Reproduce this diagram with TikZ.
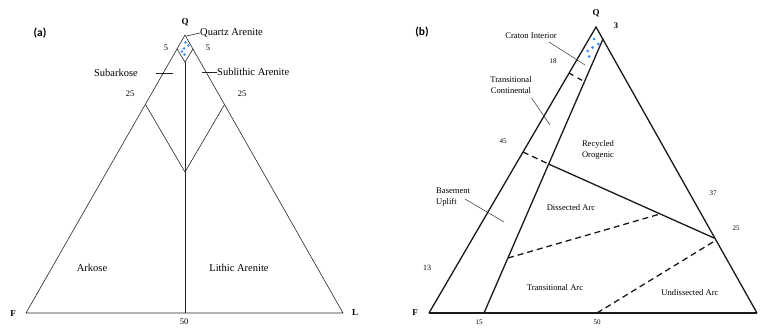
\documentclass[tikz,border=0pt]{standalone}
\usepackage{fontspec}
\setmainfont{Liberation Serif}
\newfontfamily\panelfont{Carlito}
\begin{document}
\begin{tikzpicture}[x=1pt,y=-1pt,
  lab/.style={inner sep=0pt,font=\fontsize{10.5}{12}\selectfont},
  labb/.style={inner sep=0pt,font=\fontsize{8.6}{10.4}\selectfont,align=center},
  num/.style={inner sep=0pt,font=\fontsize{8.5}{10}\selectfont},
  numb/.style={inner sep=0pt,font=\fontsize{7}{8}\selectfont},
  vert/.style={inner sep=0pt,font=\fontsize{9}{10}\selectfont\bfseries},
  panel/.style={inner sep=0pt,font=\panelfont\fontsize{11.5}{13}\selectfont\bfseries},
  thin/.style={line width=0.6pt,black!85},
  thick/.style={line width=1.3pt,black!90},
  dsh/.style={line width=1.3pt,black!90,dash pattern=on 6pt off 4pt},
  bluedot/.style={fill=blue!55!cyan!80,draw=none}]
\useasboundingbox (0,0) rectangle (765,327);

% ---------------- panel (a) ----------------
\coordinate (Qa) at (185,35);
\coordinate (Fa) at (26,313);
\coordinate (La) at (343,313);
\coordinate (l5) at (177,49);
\coordinate (r5) at (193,49);
\coordinate (db) at (185,62);
\coordinate (l25) at (145.5,104.5);
\coordinate (r25) at (224.5,104.5);
\coordinate (mc) at (185,172);
\coordinate (m50) at (185,313);

\draw[thin] (Qa) -- (Fa) -- (La) -- cycle;
\draw[thin] (l5) -- (db) -- (r5);
\draw[thin] (db) -- (m50);
\draw[thin] (l25) -- (mc) -- (r25);

\foreach \p in {(185.5,42.5),(188.5,45.5),(184,48.5),(182,51.5),(184.5,54.5)}
  \fill[bluedot] \p circle (1.4);

\node[panel] (pa) at (40,33) {(a)};
\node[vert] (qa) at (185,22) {Q};
\node[vert] (fa) at (13,314) {F};
\node[vert] (la) at (355,313) {L};
\node[lab,anchor=west] (qar) at (200,33) {Quartz Arenite};
\draw[thin] (186.5,36) -- (qar.west);
\node[num] (n5l) at (166,48) {5};
\node[num] (n5r) at (208,48) {5};
\node[lab,anchor=east] (sub) at (138,73) {Subarkose};
\coordinate (tk1a) at (156,73);
\coordinate (tk1b) at (173,73);
\draw[thin] (tk1a) -- (tk1b);
\node[lab,anchor=west] (sla) at (217,72) {Sublithic Arenite};
\coordinate (tk2a) at (202,72);
\draw[thin] (tk2a) -- (sla.west);
\node[num] (n25l) at (130,94) {25};
\node[num] (n25r) at (242,94) {25};
\node[lab] (ark) at (92,268) {Arkose};
\node[lab] (lar) at (239,268) {Lithic Arenite};
\node[num] (n50a) at (184,322) {50};

% ---------------- panel (b) ----------------
\coordinate (Qb) at (596,27);
\coordinate (Fb) at (429,313);
\coordinate (Rb) at (757,313);
\coordinate (I1) at (603,39);
\coordinate (I2) at (484,313);
\coordinate (d18a) at (569,73);
\coordinate (d18b) at (585,82);
\coordinate (L45) at (523,152);
\coordinate (M45) at (548.5,164);
\coordinate (R25) at (714,238);
\coordinate (Dm1) at (508,258);
\coordinate (Dm2) at (660,214);
\coordinate (Dl1) at (713,242);
\coordinate (Dl2) at (597,313);

\draw[thick,line join=miter] (Fb) -- (Qb) -- (Rb);
\draw[line width=1.8pt,black!90] (Fb) -- (Rb);
\draw[thick] (I1) -- (I2);
\draw[dsh,dash pattern=on 5pt off 5pt] (d18a) -- (d18b);
\draw[dsh] (L45) -- (M45);
\draw[thick] (M45) -- (R25);
\draw[dsh] (Dm1) -- (Dm2);
\draw[dsh] (Dl1) -- (Dl2);

\foreach \p in {(594,39),(598.3,44),(592.7,47.5),(587.5,51),(589,56.5)}
  \fill[bluedot] \p circle (1.5);

\node[panel] (pb) at (422,32) {(b)};
\node[vert] (qb) at (596,13) {Q};
\node[vert,font=\fontsize{8.5}{10}\selectfont\bfseries] (n3) at (616,26) {3};
\node[labb] (cra) at (531,36) {Craton Interior};
\coordinate (ca1) at (549,42);
\coordinate (ca2) at (585,65);
\draw[line width=0.5pt,black!80] (ca1) -- (ca2);
\node[numb] (n18) at (553,61) {18};
\node[labb] (trc) at (511,85) {Transitional\\Continental};
\coordinate (tc1) at (531.5,98);
\coordinate (tc2) at (550,125);
\draw[line width=0.5pt,black!80] (tc1) -- (tc2);
\node[numb] (n45) at (503,141) {45};
\node[labb] (rec) at (598,150) {Recycled\\Orogenic};
\node[labb,align=left,anchor=west] (bas) at (436,197) {Basement\\Uplift};
\coordinate (bu1) at (465,199);
\coordinate (bu2) at (504,222);
\draw[line width=0.5pt,black!80] (bu1) -- (bu2);
\node[labb] (dis) at (571,208) {Dissected Arc};
\node[numb] (n37) at (713,193) {37};
\node[numb] (n25b) at (736,228) {25};
\node[numb,font=\fontsize{8}{9}\selectfont] (n13) at (427,268) {13};
\node[labb] (tra) at (555,288) {Transitional Arc};
\node[labb] (und) at (690,293) {Undissected Arc};
\node[vert] (fb) at (415,313) {F};
\node[numb] (n15) at (479,322) {15};
\node[numb] (n50b) at (597,322) {50};
\end{tikzpicture}
\end{document}
